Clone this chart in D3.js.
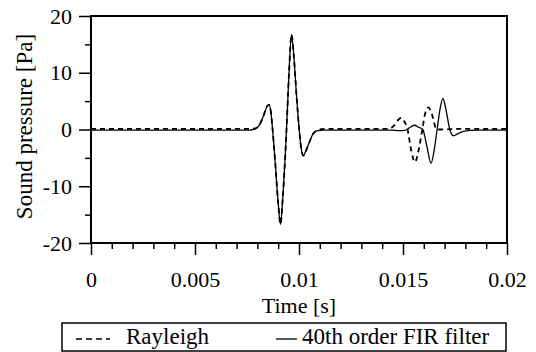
<!DOCTYPE html>
<html>
<head>
<meta charset="utf-8">
<script src="https://cdn.jsdelivr.net/npm/d3@7"></script>
<style>
  html, body { margin: 0; padding: 0; background: #fff; }
  svg { display: block; }
</style>
</head>
<body>
<svg id="chart" width="536" height="352"></svg>
<script>
// Time axis in milliseconds, pressure in pascals
const rayleighTime = [0, 7.6, 7.9, 8.1, 8.3, 8.45, 8.56, 8.65, 8.73, 8.85, 9.0, 9.11, 9.22, 9.4, 9.52, 9.64, 9.76, 9.88, 10.01, 10.1, 10.21, 10.33, 10.45, 10.69, 10.9, 11.2,
  14.3, 14.45, 14.6, 14.8, 14.93, 15.05, 15.22, 15.4, 15.58, 15.74, 15.93, 16.07, 16.22, 16.38, 16.62, 16.8, 17.2, 17.6, 20];
const rayleighPressure = [0.1, 0.1, 0.2, 0.8, 2.5, 4.0, 4.4, 3.0, 0, -5.5, -13, -16.7, -12, 0, 10, 16.7, 12.5, 6, 0, -3.2, -4.6, -3.8, -2.7, -0.7, -0.1, 0.1,
  0.1, 0.3, 0.8, 1.8, 2.05, 1.5, 0, -3.8, -5.75, -3.8, 0, 2.9, 3.9, 2.8, 0, 0, 0.05, 0.1, 0.1];

const firTime = [0, 7.6, 7.9, 8.1, 8.3, 8.45, 8.56, 8.65, 8.73, 8.85, 9.0, 9.11, 9.22, 9.4, 9.52, 9.64, 9.76, 9.88, 10.01, 10.1, 10.21, 10.33, 10.45, 10.69, 10.9, 11.2,
  14.5, 14.8, 15.1, 15.35, 15.55, 15.75, 15.95, 16.15, 16.35, 16.5, 16.64, 16.8, 16.92, 17.04, 17.25, 17.43, 17.6, 17.9, 18.3, 18.6, 20];
const firPressure = [-0.1, -0.1, 0.1, 0.8, 2.5, 4.0, 4.4, 3.0, 0, -5.5, -13, -16.7, -12, 0, 10, 16.7, 12.5, 6, 0, -3.2, -4.6, -3.8, -2.7, -0.7, -0.2, -0.1,
  -0.1, -0.2, -0.15, 0.4, 0.75, 0.4, 0, -3, -5.95, -3.6, 0, 4, 5.5, 4, 0, -1.1, -0.8, -0.35, -0.15, -0.1, -0.1];

const xTickValues = [0, 0.005, 0.01, 0.015, 0.02];
const xTickLabels = ["0", "0.005", "0.01", "0.015", "0.02"];
const yTickValues = [-20, -10, 0, 10, 20];
const yTickLabels = ["-20", "-10", "0", "10", "20"];
const seriesNames = ["Rayleigh", "40th order FIR filter"];

const FONT = "Liberation Serif";

const svg = d3.select("#chart");
const plot = { left: 91, right: 507, top: 16, bottom: 243 };

const x = d3.scaleLinear().domain([0, 0.02]).range([plot.left, plot.right]);
const y = d3.scaleLinear().domain([-20, 20]).range([plot.bottom, plot.top]);

// Minor ticks (no labels)
const xMinor = d3.range(0, 21).map(i => i * 0.001).filter(v => !xTickValues.some(m => Math.abs(m - v) < 1e-9));
const yMinor = [-15, -5, 5, 15];

function styleAxis(g) {
  g.attr("font-family", null).attr("font-size", null);
  g.select(".domain").remove();
  g.selectAll(".tick line").attr("stroke", "#000").attr("stroke-width", 1.5);
  g.selectAll("text").style("font-family", FONT).style("font-size", "22px").attr("fill", "#000");
}

svg.append("g")
  .attr("transform", `translate(0,${plot.bottom})`)
  .call(d3.axisBottom(x).tickValues(xMinor).tickSize(6).tickFormat(""))
  .call(styleAxis);

svg.append("g")
  .attr("transform", `translate(0,${plot.bottom})`)
  .call(d3.axisBottom(x).tickValues(xTickValues).tickSize(12).tickPadding(16)
    .tickFormat((d, i) => xTickLabels[i]))
  .call(styleAxis);

svg.append("g")
  .attr("transform", `translate(${plot.left},0)`)
  .call(d3.axisLeft(y).tickValues(yMinor).tickSize(6).tickFormat(""))
  .call(styleAxis);

svg.append("g")
  .attr("transform", `translate(${plot.left},0)`)
  .call(d3.axisLeft(y).tickValues(yTickValues).tickSize(12).tickPadding(7)
    .tickFormat((d, i) => yTickLabels[i]))
  .call(styleAxis);

// Plot frame
svg.append("rect")
  .attr("x", plot.left).attr("y", plot.top)
  .attr("width", plot.right - plot.left).attr("height", plot.bottom - plot.top)
  .attr("fill", "none").attr("stroke", "#000").attr("stroke-width", 2);

const line = d3.line()
  .x(d => x(d[0] / 1000))
  .y(d => y(d[1]))
  .curve(d3.curveMonotoneX);

const firData = firTime.map((t, i) => [t, firPressure[i]]);
const rayData = rayleighTime.map((t, i) => [t, rayleighPressure[i]]);

svg.append("path")
  .datum(firData)
  .attr("d", line)
  .attr("fill", "none").attr("stroke", "#000").attr("stroke-width", 1.3);

svg.append("path")
  .datum(rayData)
  .attr("d", line)
  .attr("fill", "none").attr("stroke", "#000").attr("stroke-width", 1.8)
  .attr("stroke-dasharray", "5,4");

// Axis titles
svg.append("text")
  .attr("x", (plot.left + plot.right) / 2).attr("y", 313)
  .attr("text-anchor", "middle")
  .style("font-family", FONT).style("font-size", "22px")
  .text("Time [s]");

svg.append("text")
  .attr("transform", `translate(32,${(plot.top + plot.bottom) / 2 - 3}) rotate(-90)`)
  .attr("text-anchor", "middle")
  .style("font-family", FONT).style("font-size", "23px")
  .text("Sound pressure [Pa]");

// Legend
const legend = svg.append("g");
legend.append("rect")
  .attr("x", 62).attr("y", 323).attr("width", 444).attr("height", 28)
  .attr("fill", "#fff").attr("stroke", "#000").attr("stroke-width", 1.5);
legend.append("line")
  .attr("x1", 76).attr("x2", 110).attr("y1", 339).attr("y2", 339)
  .attr("stroke", "#000").attr("stroke-width", 1.3).attr("stroke-dasharray", "6,4");
legend.append("text")
  .attr("x", 126).attr("y", 344)
  .style("font-family", FONT).style("font-size", "23px")
  .text(seriesNames[0]);
legend.append("line")
  .attr("x1", 276).attr("x2", 297).attr("y1", 339).attr("y2", 339)
  .attr("stroke", "#000").attr("stroke-width", 1.3);
legend.append("text")
  .attr("x", 302).attr("y", 344)
  .style("font-family", FONT).style("font-size", "23px")
  .text(seriesNames[1]);
</script>
</body>
</html>
